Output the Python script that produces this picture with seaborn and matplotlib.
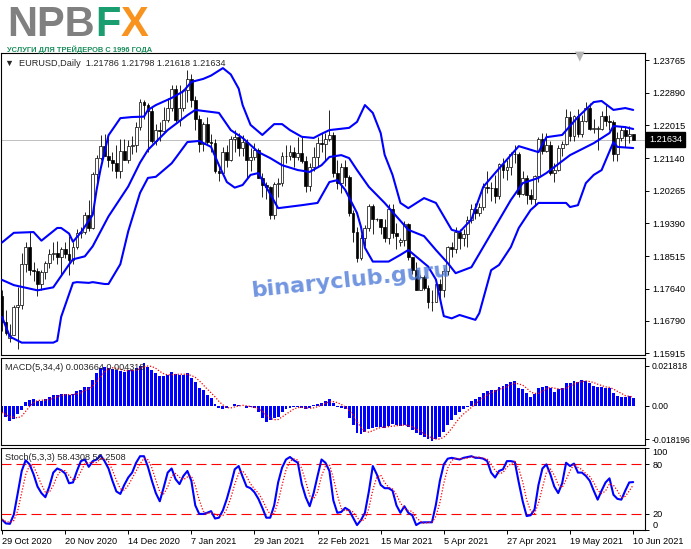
import numpy as np
import pandas as pd
import seaborn as sns
import matplotlib

matplotlib.use("Agg")
from matplotlib import pyplot as plt

sns.set_style("white")
plt.rcParams["font.family"] = ["Liberation Sans", "DejaVu Sans"]
plt.rcParams["axes.linewidth"] = 0.8

W, H = 691, 549
BLUE = "#0000ff"
RED = "#ff0000"

# EURUSD daily, bar 0 = 29 Oct 2020, bar 160 = 10 Jun 2021 (two short Sunday bars in March)
opens = [
    1.1744, 1.1674, 1.1633, 1.1641, 1.1715, 1.1722, 1.1830, 1.1875, 1.1814, 1.1812,
    1.1777, 1.1809, 1.1834, 1.1856, 1.1860, 1.1850, 1.1870, 1.1857, 1.1841, 1.1877,
    1.1914, 1.1917, 1.1963, 1.1927, 1.2071, 1.2114, 1.2146, 1.2120, 1.2110, 1.2101,
    1.2079, 1.2132, 1.2108, 1.2146, 1.2150, 1.2196, 1.2265, 1.2255, 1.2240, 1.2160,
    1.2189, 1.2186, 1.2216, 1.2248, 1.2298, 1.2216, 1.2249, 1.2297, 1.2325, 1.2270,
    1.2219, 1.2151, 1.2206, 1.2156, 1.2154, 1.2080, 1.2075, 1.2131, 1.2108, 1.2165,
    1.2171, 1.2140, 1.2158, 1.2110, 1.2117, 1.2136, 1.2060, 1.2042, 1.2036, 1.1963,
    1.2046, 1.2048, 1.2119, 1.2119, 1.2131, 1.2118, 1.2127, 1.2105, 1.2040, 1.2090,
    1.2118, 1.2154, 1.2151, 1.2166, 1.2175, 1.2075, 1.2047, 1.2090, 1.2063, 1.1966,
    1.1915, 1.1846, 1.1899, 1.1927, 1.1985, 1.1950, 1.1950, 1.1929, 1.1899, 1.1979,
    1.1914, 1.1890, 1.1895, 1.1938, 1.1850, 1.1814, 1.1762, 1.1795, 1.1765, 1.1729,
    1.1730, 1.1778, 1.1762, 1.1813, 1.1875, 1.1871, 1.1915, 1.1901, 1.1911, 1.1947,
    1.1979, 1.1966, 1.1984, 1.2036, 1.2034, 1.2034, 1.2012, 1.2097, 1.2082, 1.2089,
    1.2126, 1.2124, 1.2018, 1.2062, 1.2016, 1.2005, 1.2066, 1.2164, 1.2132, 1.2149,
    1.2075, 1.2081, 1.2142, 1.2153, 1.2224, 1.2174, 1.2228, 1.2179, 1.2213, 1.2249,
    1.2193, 1.2193, 1.2193, 1.2226, 1.2214, 1.2211, 1.2126, 1.2167, 1.2190, 1.2172,
    1.21786,
]
highs = [
    1.1760, 1.1707, 1.1670, 1.1720, 1.1770, 1.1860, 1.1890, 1.1920, 1.1837, 1.1820,
    1.1814, 1.1838, 1.1870, 1.1890, 1.1891, 1.1875, 1.1890, 1.1905, 1.1890, 1.1925,
    1.1930, 1.1970, 1.2003, 1.2077, 1.2122, 1.2175, 1.2178, 1.2177, 1.2130, 1.2150,
    1.2165, 1.2164, 1.2163, 1.2172, 1.2210, 1.2273, 1.2270, 1.2262, 1.2250, 1.2205,
    1.2210, 1.2250, 1.2275, 1.2310, 1.2310, 1.2310, 1.2300, 1.2349, 1.2340, 1.2280,
    1.2230, 1.2210, 1.2223, 1.2178, 1.2165, 1.2090, 1.2145, 1.2150, 1.2172, 1.2190,
    1.2180, 1.2175, 1.2165, 1.2140, 1.2155, 1.2140, 1.2075, 1.2050, 1.2040, 1.2050,
    1.2060, 1.2130, 1.2150, 1.2150, 1.2145, 1.2170, 1.2170, 1.2120, 1.2100, 1.2145,
    1.2170, 1.2180, 1.2180, 1.2243, 1.2185, 1.2110, 1.2100, 1.2110, 1.2070, 1.1975,
    1.1930, 1.1910, 1.1935, 1.1990, 1.1990, 1.1955, 1.1950, 1.1950, 1.1990, 1.1990,
    1.1940, 1.1900, 1.1945, 1.1940, 1.1850, 1.1835, 1.1800, 1.1800, 1.1775, 1.1760,
    1.1790, 1.1790, 1.1820, 1.1880, 1.1890, 1.1930, 1.1925, 1.1925, 1.1960, 1.1990,
    1.1995, 1.1995, 1.2048, 1.2080, 1.2050, 1.2070, 1.2100, 1.2115, 1.2110, 1.2130,
    1.2150, 1.2130, 1.2080, 1.2070, 1.2030, 1.2070, 1.2170, 1.2180, 1.2180, 1.2160,
    1.2100, 1.2150, 1.2160, 1.2245, 1.2240, 1.2230, 1.2245, 1.2230, 1.2265, 1.2262,
    1.2220, 1.2200, 1.2240, 1.2255, 1.2230, 1.2215, 1.2185, 1.2200, 1.2200, 1.2200,
    1.21798,
]
lows = [
    1.1650, 1.1640, 1.1622, 1.1640, 1.1603, 1.1710, 1.1810, 1.1800, 1.1784, 1.1745,
    1.1760, 1.1790, 1.1820, 1.1840, 1.1830, 1.1800, 1.1846, 1.1800, 1.1830, 1.1870,
    1.1900, 1.1910, 1.1920, 1.1925, 1.2040, 1.2110, 1.2120, 1.2090, 1.2080, 1.2060,
    1.2060, 1.2110, 1.2100, 1.2125, 1.2130, 1.2190, 1.2220, 1.2130, 1.2155, 1.2150,
    1.2160, 1.2180, 1.2210, 1.2240, 1.2210, 1.2200, 1.2240, 1.2265, 1.2250, 1.2190,
    1.2130, 1.2132, 1.2150, 1.2130, 1.2075, 1.2054, 1.2070, 1.2090, 1.2105, 1.2130,
    1.2120, 1.2120, 1.2060, 1.2080, 1.2110, 1.2060, 1.2010, 1.2005, 1.1952, 1.1950,
    1.2010, 1.2040, 1.2100, 1.2110, 1.2090, 1.2110, 1.2100, 1.2022, 1.2025, 1.2080,
    1.2090, 1.2130, 1.2110, 1.2160, 1.2064, 1.2030, 1.2020, 1.2040, 1.1960, 1.1890,
    1.1836, 1.1840, 1.1880, 1.1920, 1.1910, 1.1945, 1.1910, 1.1890, 1.1885, 1.1900,
    1.1870, 1.1880, 1.1880, 1.1840, 1.1805, 1.1760, 1.1760, 1.1760, 1.1712, 1.1704,
    1.1730, 1.1740, 1.1742, 1.1800, 1.1850, 1.1860, 1.1870, 1.1880, 1.1875, 1.1940,
    1.1950, 1.1960, 1.1975, 1.2020, 1.2000, 1.1995, 1.2005, 1.2060, 1.2055, 1.2070,
    1.2100, 1.2010, 1.2015, 1.1990, 1.1990, 1.1985, 1.2050, 1.2125, 1.2130, 1.2070,
    1.2050, 1.2080, 1.2120, 1.2150, 1.2160, 1.2160, 1.2170, 1.2170, 1.2210, 1.2190,
    1.2180, 1.2135, 1.2190, 1.2200, 1.2190, 1.2105, 1.2105, 1.2160, 1.2145, 1.2155,
    1.21618,
]
closes = [
    1.1674, 1.1647, 1.1641, 1.1715, 1.1722, 1.1830, 1.1875, 1.1814, 1.1812, 1.1777,
    1.1809, 1.1834, 1.1856, 1.1860, 1.1850, 1.1870, 1.1857, 1.1841, 1.1877, 1.1914,
    1.1917, 1.1963, 1.1927, 1.2071, 1.2114, 1.2146, 1.2120, 1.2110, 1.2101, 1.2079,
    1.2132, 1.2108, 1.2146, 1.2150, 1.2196, 1.2265, 1.2255, 1.2240, 1.2160, 1.2189,
    1.2186, 1.2216, 1.2248, 1.2298, 1.2216, 1.2249, 1.2297, 1.2325, 1.2270, 1.2219,
    1.2151, 1.2206, 1.2156, 1.2154, 1.2080, 1.2075, 1.2131, 1.2108, 1.2165, 1.2171,
    1.2140, 1.2158, 1.2110, 1.2117, 1.2136, 1.2060, 1.2042, 1.2036, 1.1963, 1.2046,
    1.2048, 1.2119, 1.2119, 1.2131, 1.2118, 1.2127, 1.2105, 1.2040, 1.2090, 1.2118,
    1.2154, 1.2151, 1.2166, 1.2175, 1.2075, 1.2047, 1.2090, 1.2063, 1.1966, 1.1915,
    1.1846, 1.1899, 1.1927, 1.1985, 1.1952, 1.1950, 1.1929, 1.1899, 1.1979, 1.1914,
    1.1905, 1.1895, 1.1938, 1.1850, 1.1814, 1.1762, 1.1795, 1.1765, 1.1729, 1.1730,
    1.1778, 1.1762, 1.1813, 1.1875, 1.1871, 1.1915, 1.1901, 1.1911, 1.1947, 1.1979,
    1.1966, 1.1984, 1.2036, 1.2034, 1.2034, 1.2012, 1.2097, 1.2082, 1.2089, 1.2126,
    1.2124, 1.2018, 1.2062, 1.2016, 1.2005, 1.2066, 1.2164, 1.2132, 1.2149, 1.2075,
    1.2081, 1.2142, 1.2153, 1.2224, 1.2174, 1.2228, 1.2179, 1.2213, 1.2249, 1.2193,
    1.2193, 1.2193, 1.2226, 1.2214, 1.2211, 1.2126, 1.2167, 1.2190, 1.2172, 1.2179,
    1.21634,
]

# Bollinger bands (bar index, price)
bb_up_idx = [0, 3, 8, 10, 14, 15, 17, 18, 20, 23, 24, 25, 27, 30, 33, 36, 37, 39, 43, 46,
             48, 51, 53, 56, 58, 60, 61, 63, 66, 69, 71, 73, 76, 79, 81, 83, 88, 90, 92, 94,
             96, 97, 99, 101, 103, 107, 110, 114, 116, 119, 122, 125, 131, 136, 138, 142,
             146, 150, 152, 155, 158, 160]
bb_up = [1.1888, 1.1914, 1.1916, 1.1893, 1.1927, 1.1927, 1.1912, 1.1890, 1.1915, 1.1962,
         1.2030, 1.2085, 1.2175, 1.2221, 1.2224, 1.2225, 1.2243, 1.2256, 1.2275, 1.2293,
         1.2318, 1.2326, 1.2335, 1.2355, 1.2338, 1.2300, 1.2256, 1.2203, 1.2176, 1.2205,
         1.2205, 1.2189, 1.2171, 1.2168, 1.2179, 1.2189, 1.2195, 1.2211, 1.2256, 1.2235,
         1.2181, 1.2123, 1.2069, 1.1994, 1.1980, 1.2007, 1.1994, 1.1922, 1.1916, 1.1950,
         1.2037, 1.2074, 1.2146, 1.2130, 1.2170, 1.2176, 1.2224, 1.2264, 1.2267, 1.2243,
         1.2248, 1.2243]
bb_mid_idx = [0, 3, 9, 13, 17, 18, 21, 23, 27, 32, 35, 37, 42, 47, 49, 55, 58, 61, 65, 68,
              71, 75, 78, 81, 83, 86, 88, 90, 93, 97, 100, 103, 107, 110, 113, 115, 119,
              123, 126, 129, 132, 136, 138, 144, 150, 154, 155, 158, 160]
bb_mid = [1.1788, 1.1774, 1.1760, 1.1768, 1.1829, 1.1843, 1.1851, 1.1878, 1.1958, 1.2038,
          1.2102, 1.2136, 1.2189, 1.2229, 1.2243, 1.2235, 1.2189, 1.2168, 1.2130, 1.2114,
          1.2095, 1.2082, 1.2077, 1.2095, 1.2117, 1.2122, 1.2114, 1.2082, 1.2037, 1.1994,
          1.1958, 1.1922, 1.1905, 1.1868, 1.1833, 1.1806, 1.1822, 1.1894, 1.1948, 1.2002,
          1.2047, 1.2061, 1.2074, 1.2122, 1.2154, 1.2181, 1.2200, 1.2197, 1.2192]
bb_low_idx = [0, 2, 5, 13, 14, 15, 18, 19, 22, 23, 26, 27, 30, 32, 35, 37, 39, 43, 44, 47,
              50, 53, 55, 57, 59, 61, 63, 65, 66, 70, 76, 80, 83, 85, 87, 90, 91, 92, 94,
              98, 101, 103, 108, 110, 112, 114, 116, 120, 121, 124, 126, 129, 131, 134,
              136, 143, 144, 146, 148, 150, 152, 155, 156, 160]
bb_low = [1.1689, 1.1636, 1.1620, 1.1620, 1.1625, 1.1689, 1.1780, 1.1782, 1.1780, 1.1782,
          1.1777, 1.1777, 1.1830, 1.1918, 1.2021, 1.2061, 1.2064, 1.2100, 1.2114, 1.2157,
          1.2160, 1.2144, 1.2095, 1.2050, 1.2035, 1.2042, 1.2069, 1.2074, 1.2055, 1.1980,
          1.1988, 1.1994, 1.2050, 1.2055, 1.2029, 1.1967, 1.1930, 1.1874, 1.1837, 1.1837,
          1.1855, 1.1868, 1.1824, 1.1789, 1.1691, 1.1685, 1.1694, 1.1681, 1.1699, 1.1814,
          1.1828, 1.1876, 1.1927, 1.1975, 1.1994, 1.1994, 1.1983, 1.1988, 1.2047, 1.2069,
          1.2082, 1.2157, 1.2144, 1.2141]

# MACD(5,34,4) main values, one per bar
macd = [
    -0.0036, -0.0060, -0.0084, -0.0073, -0.0047, -0.0024, 0.0022, 0.0031, 0.0035, 0.0027,
    0.0027, 0.0035, 0.0045, 0.0056, 0.0060, 0.0062, 0.0062, 0.0056, 0.0062, 0.0080,
    0.0085, 0.0100, 0.0100, 0.0140, 0.0176, 0.0207, 0.0213, 0.0207, 0.0200, 0.0194,
    0.0191, 0.0185, 0.0194, 0.0194, 0.0204, 0.0218, 0.0231, 0.0213, 0.0194, 0.0176,
    0.0164, 0.0164, 0.0167, 0.0182, 0.0171, 0.0167, 0.0167, 0.0176, 0.0149, 0.0127,
    0.0094, 0.0085, 0.0058, 0.0044, 0.0007, -0.0015, -0.0018, -0.0015, 0.0000, 0.0007,
    0.0004, -0.0002, -0.0011, -0.0009, -0.0015, -0.0036, -0.0065, -0.0091, -0.0080, -0.0069,
    -0.0060, -0.0036, -0.0020, -0.0011, -0.0005, -0.0005, -0.0015, -0.0020, -0.0015, 0.0004,
    0.0009, 0.0016, 0.0025, 0.0035, 0.0013, -0.0005, -0.0015, -0.0018, -0.0065, -0.0105,
    -0.0151, -0.0156, -0.0142, -0.0127, -0.0120, -0.0114, -0.0114, -0.0120, -0.0109, -0.0102,
    -0.0105, -0.0109, -0.0105, -0.0114, -0.0133, -0.0151, -0.0160, -0.0169, -0.0182, -0.0193,
    -0.0182, -0.0169, -0.0142, -0.0105, -0.0078, -0.0051, -0.0033, -0.0018, -0.0005, 0.0025,
    0.0036, 0.0049, 0.0067, 0.0080, 0.0085, 0.0085, 0.0104, 0.0109, 0.0116, 0.0131,
    0.0134, 0.0094, 0.0089, 0.0067, 0.0049, 0.0062, 0.0094, 0.0104, 0.0109, 0.0094,
    0.0076, 0.0091, 0.0094, 0.0122, 0.0122, 0.0134, 0.0131, 0.0140, 0.0134, 0.0122,
    0.0109, 0.0104, 0.0104, 0.0094, 0.0098, 0.0067, 0.0055, 0.0049, 0.0049, 0.0053,
    0.0040,
]

# Stochastic(5,3,3) %K, one per bar
stoch_k = [
    12.7, 8, 7.5, 18.8, 45, 72, 85, 80, 68, 53,
    45, 40, 53, 70, 75, 73, 69, 57, 58, 72,
    84, 86, 77, 84, 86, 91, 84, 75, 60, 47,
    44, 55, 64, 70, 82, 90, 90, 77, 60, 45,
    35, 52, 70, 75, 62, 56, 66, 72, 60, 30,
    19.6, 19.6, 21, 23, 14, 15, 24, 38, 55, 74,
    78, 65, 53, 51, 46, 38, 27, 15, 15, 30,
    58, 76, 86, 89, 85, 82, 56, 40, 29, 45,
    66, 86, 82, 72, 36, 21, 22, 27, 24, 15,
    6, 12, 21, 47, 78, 68, 55, 51, 51, 48,
    30, 21, 29, 21, 18, 6, 9, 9.4, 9.4, 9.4,
    31, 60, 80, 87, 88, 87, 86, 88, 89, 90,
    88, 88, 87, 84, 70, 64, 72, 74, 84, 84,
    83, 58, 35, 17, 18, 25, 55, 75, 80, 68,
    53, 45, 57, 82, 78, 81, 70, 70, 66, 60,
    48, 37, 48, 58, 63, 43, 38, 37, 48, 58,
    58.43,
]

price_ticks = [1.23765, 1.22890, 1.22015, 1.21140, 1.20265, 1.19390, 1.18515, 1.17640,
               1.16790, 1.15915]
macd_ticks = [0.021818, 0.0, -0.018196]
macd_tick_labels = ["0.021818", "0.00", "-0.018196"]
stoch_ticks = [100, 80, 20, 0]
stoch_levels = [80, 20]
date_idx = [0, 16, 32, 48, 64, 80, 96, 112, 128, 144, 160]
date_labels = ["29 Oct 2020", "20 Nov 2020", "14 Dec 2020", "7 Jan 2021", "29 Jan 2021",
               "22 Feb 2021", "15 Mar 2021", "5 Apr 2021", "27 Apr 2021", "19 May 2021",
               "10 Jun 2021"]

header = "▼  EURUSD,Daily  1.21786 1.21798 1.21618 1.21634"
macd_title = "MACD(5,34,4) 0.003664 0.004318"
stoch_title = "Stoch(5,3,3) 58.4308 56.2508"

fig = plt.figure(figsize=(W / 100, H / 100), dpi=100)


def panel(top, bottom):
    return fig.add_axes([1 / W, 1 - bottom / H, 644 / W, (bottom - top) / H])


ax = panel(53, 355)
ax_macd = panel(358, 445)
ax_st = panel(448, 530)

idx = np.arange(len(closes))
o = np.array(opens)
c = np.array(closes)
h = np.array(highs)
l = np.array(lows)

# candles
ax.axhline(c[-1], color="#c0c0c0", lw=0.7, zorder=1)
ax.vlines(idx, l, h, color="black", lw=0.6, zorder=2)
ax.bar(idx, np.maximum(np.abs(c - o), 0.00004), bottom=np.minimum(o, c), width=0.72,
       color=np.where(c >= o, "white", "black"), edgecolor="black", linewidth=0.5, zorder=3)

for bx, by in [(bb_up_idx, bb_up), (bb_mid_idx, bb_mid), (bb_low_idx, bb_low)]:
    sns.lineplot(x=bx, y=by, ax=ax, color=BLUE, lw=1.5, sort=False, estimator=None,
                 legend=False, zorder=4)

ax.set_ylim(1.15869, 1.23954)
ax.set_yticks(price_ticks)
ax.set_yticklabels([f"{p:.5f}" for p in price_ticks])
ax.annotate(f"{c[-1]:.5f}", xy=(1, c[-1]), xycoords=("axes fraction", "data"),
            xytext=(3, 0), textcoords="offset points", ha="left", va="center",
            color="white", fontsize=6.6,
            bbox=dict(boxstyle="square,pad=0.3", fc="black", ec="black"))

# MACD
ax_macd.bar(idx, macd, width=0.74, color=BLUE, linewidth=0, zorder=2)
macd_signal = pd.Series(macd).rolling(4, min_periods=1).mean()
sns.lineplot(x=idx, y=macd_signal, ax=ax_macd, color=RED, lw=0.9, dashes=False,
             linestyle=(0, (1, 1.4)), legend=False, zorder=3)
ax_macd.set_ylim(-0.0214, 0.0260)
ax_macd.set_yticks(macd_ticks)
ax_macd.set_yticklabels(macd_tick_labels)

# Stochastic
for lev in stoch_levels:
    ax_st.axhline(lev, color=RED, lw=0.8, ls=(0, (9, 4.5)), zorder=1)
sns.lineplot(x=idx, y=stoch_k, ax=ax_st, color=BLUE, lw=1.5, legend=False, zorder=2)
stoch_d = pd.Series(stoch_k).rolling(3, min_periods=1).mean()
sns.lineplot(x=idx, y=stoch_d, ax=ax_st, color=RED, lw=0.9, dashes=False,
             linestyle=(0, (1, 1.4)), legend=False, zorder=3)
ax_st.set_ylim(0, 100)
ax_st.set_yticks(stoch_ticks)
ax_st.set_yticklabels([str(t) for t in stoch_ticks])

for a in (ax, ax_macd, ax_st):
    a.set_xlim(-0.25, 163)
    a.set_xlabel("")
    a.set_ylabel("")
    a.yaxis.tick_right()
    a.tick_params(axis="y", right=True, left=False, length=3, width=0.7, pad=2.5,
                  labelsize=6.6, colors="black")
    a.tick_params(axis="x", bottom=False, labelbottom=False)
    for s in a.spines.values():
        s.set_color("black")
        s.set_linewidth(0.8)
ax_macd.tick_params(axis="y", labelsize=6.2, pad=1.5)

# MT4 keeps the 100 / 0 labels inside the window
st_ticks = ax_st.yaxis.get_major_ticks()
st_ticks[0].label2.set_va("top")
st_ticks[-1].label2.set_va("bottom")

ax_st.set_xticks(date_idx)
ax_st.set_xticklabels(date_labels, ha="left")
ax_st.tick_params(axis="x", bottom=True, labelbottom=True, length=3, width=0.7, pad=2,
                  labelsize=6.6, colors="black")

# panel titles
fig.text(5 / W, 1 - 63 / H, header, fontsize=6.6, va="center", ha="left")
fig.text(5 / W, 1 - 368 / H, macd_title, fontsize=6.6, va="center", ha="left")
fig.text(5 / W, 1 - 457 / H, stoch_title, fontsize=6.6, va="center", ha="left")
fig.text(580 / W, 1 - 56 / H, "▼", color="#b4b4b4", fontsize=9, ha="center",
         va="center", family="DejaVu Sans")

# watermark
fig.text(350 / W, 1 - 281 / H, "binaryclub.guru", rotation=6, fontsize=16,
         weight="bold", color="#4f7bd8", alpha=0.8, ha="center", va="center",
         family="DejaVu Sans")

# logo
logo_y = 1 - 36 / H
fig.text(7 / W, logo_y, "NPB", fontsize=30, weight="bold", color="#808080",
         family="Liberation Sans", va="baseline")
fig.text(95 / W, logo_y, "F", fontsize=30, weight="bold", color="#1a9d6f",
         family="Liberation Sans", va="baseline")
fig.text(121 / W, logo_y, "X", fontsize=30, weight="bold", color="#f7931e",
         family="Liberation Sans", va="baseline")
fig.text(7 / W, 1 - 51.5 / H, "УСЛУГИ ДЛЯ ТРЕЙДЕРОВ С 1996 ГОДА", fontsize=5.4,
         weight="bold", color="#1b8d5c", family="Liberation Sans", va="baseline")

fig.savefig("out.png", dpi=100)
